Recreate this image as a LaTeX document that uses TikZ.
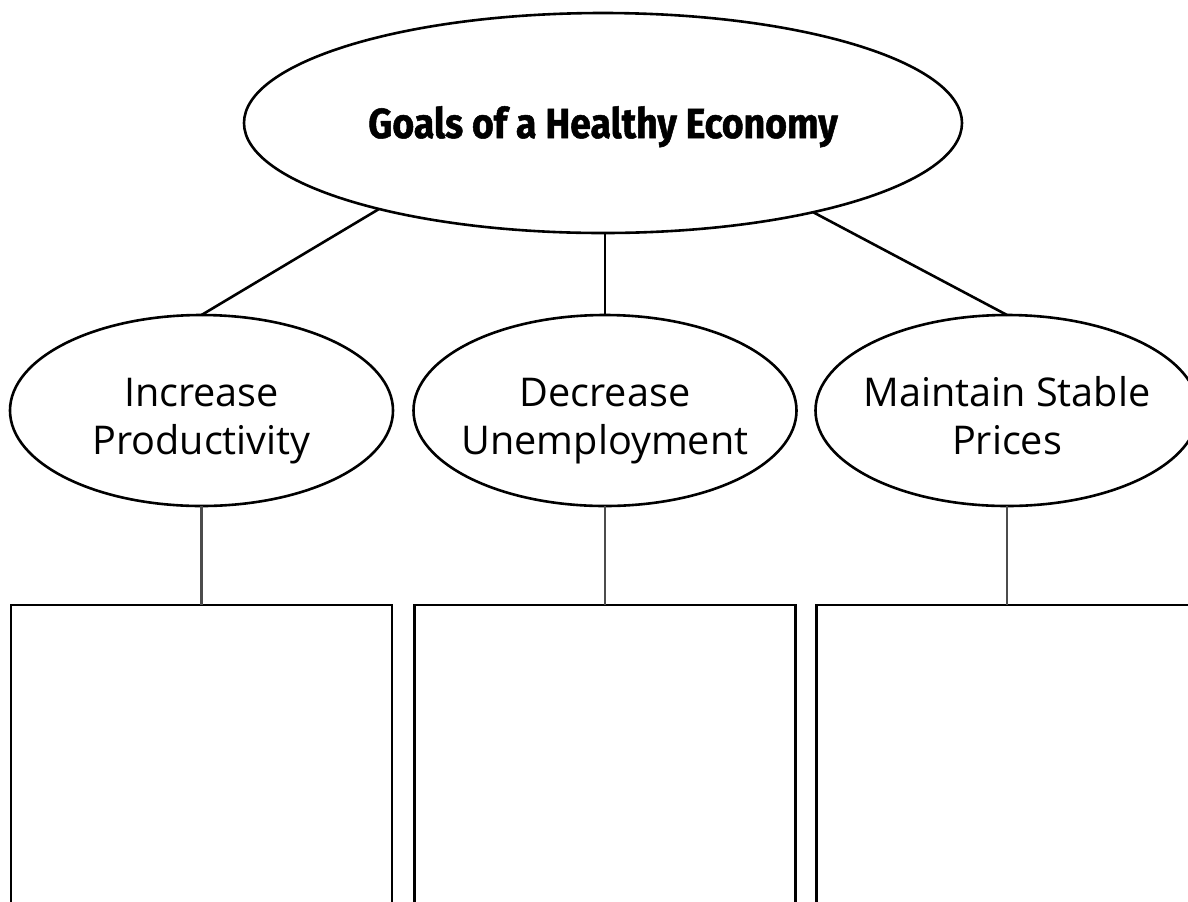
\documentclass[tikz,border=0pt]{standalone}
\usepackage{fontspec}
\usepackage{tikz}
\usetikzlibrary{positioning, shapes.geometric}
\newfontfamily\goalfont{Open Sans}
\newfontfamily\titlefont[FakeStretch=0.89, FakeBold=1.2]{Fira Sans}

\begin{document}
\begin{tikzpicture}[
	x=0.5pt, y=-0.5pt,
	bigoval/.style={ellipse, draw=black, line width=1.3pt, minimum width=359pt, minimum height=110pt, inner sep=0pt, outer sep=0pt},
	goal/.style={ellipse, draw=black, line width=1.3pt, minimum width=191.5pt, minimum height=95.5pt, inner sep=0pt, outer sep=0pt},
	goaltext/.style={anchor=base, align=center, inner sep=0pt, font=\goalfont\fontsize{19.8}{24}\selectfont},
	titletext/.style={anchor=base, inner sep=0pt, font=\titlefont\bfseries\fontsize{21}{25}\selectfont},
	notebox/.style={rectangle, draw=black, line width=1.3pt, minimum width=190.5pt, minimum height=200pt, anchor=north, outer sep=0pt},
	link/.style={draw=black, line width=1.3pt},
	stem/.style={draw=black!70, line width=1.2pt},
	node distance=49.5pt,
	]
		%Frame
		\clip (0,0) rectangle (1188,901);

		%Nodes
		\node[bigoval]     (goals)     at (603,123)    {};
		\node[titletext]   (goalstitle) at ([yshift=-7.5pt]goals.center) {Goals of a Healthy Economy};

		\node[goal]        (prod)      at (201.5,410.5) {};
		\node[goal]        (unemp)     at (605,410.5)   {};
		\node[goal]        (prices)    at (1007,410.5)  {};
		\node[goaltext]    (prodtext)   at ([yshift=-21.75pt]prod.center)   {Increase\\Productivity};
		\node[goaltext]    (unemptext)  at ([yshift=-21.75pt]unemp.center)  {Decrease\\Unemployment};
		\node[goaltext]    (pricestext) at ([yshift=-21.75pt]prices.center) {Maintain Stable\\Prices};

		\node[notebox]     (prodbox)   [below=of prod]   {};
		\node[notebox]     (unempbox)  [below=of unemp]  {};
		\node[notebox]     (pricesbox) [below=of prices] {};

		%Lines
		\draw[link] (goals.201) -- (prod.north);
		\draw[link] (unemp.north |- goals.south) -- (unemp.north);
		\draw[link] (goals.337) -- (prices.north);
		\draw[stem] (prod.south) -- (prodbox.north);
		\draw[stem] (unemp.south) -- (unempbox.north);
		\draw[stem] (prices.south) -- (pricesbox.north);
	\end{tikzpicture}
\end{document}
